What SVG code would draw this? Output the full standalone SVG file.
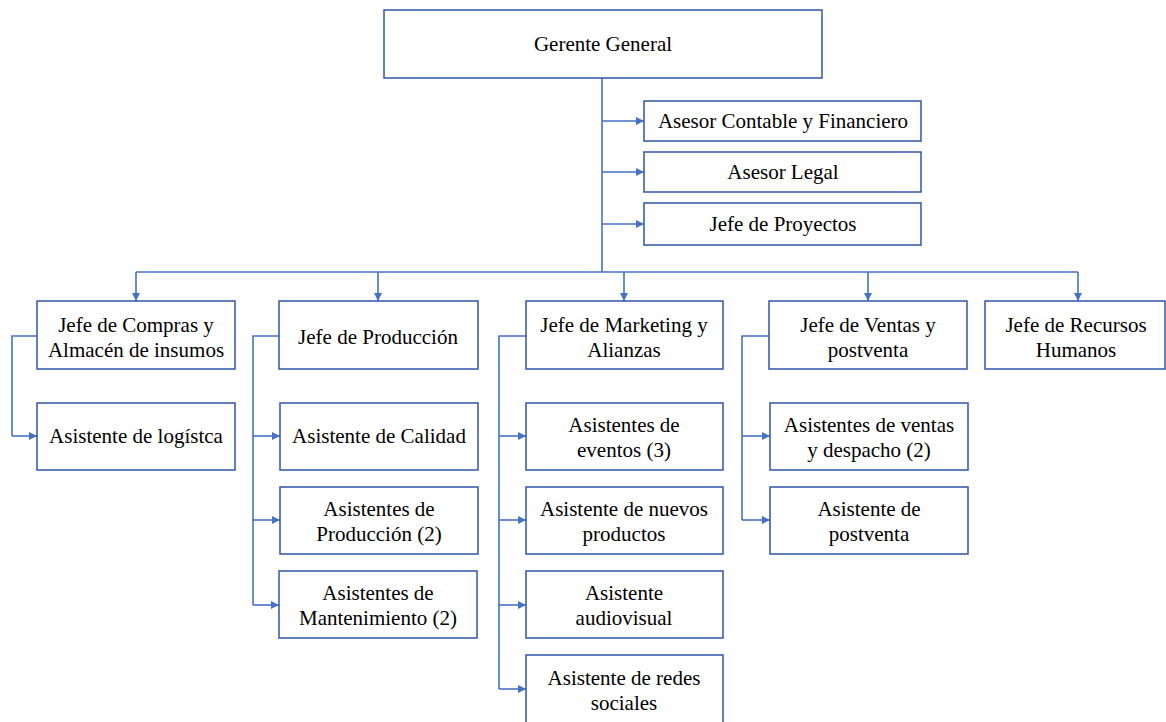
<svg xmlns="http://www.w3.org/2000/svg" width="1166" height="722" viewBox="0 0 1166 722">
  <style>
    .box { fill: #ffffff; stroke: #2f55a6; stroke-width: 1.5; }
    .lbl { font-family: 'Liberation Serif', 'DejaVu Serif', serif; font-size: 21px; fill: #000000; text-anchor: middle; }
    .link { fill: none; stroke: #4472c4; stroke-width: 1.6; }
    .arr { marker-end: url(#head); }
  </style>
  <defs>
    <marker id="head" viewBox="0 0 10 10" refX="10" refY="5" markerWidth="8" markerHeight="8" markerUnits="userSpaceOnUse" orient="auto">
      <path d="M0,0 L10,5 L0,10 z" fill="#4472c4"/>
    </marker>
  </defs>
  <rect width="1166" height="722" fill="#ffffff"/>

  <!-- connectors -->
  <g id="connectors">
    <!-- trunk from the general manager -->
    <path class="link" d="M602,78 V272"/>
    <path class="link arr" d="M602,121 H644"/>
    <path class="link arr" d="M602,172 H644"/>
    <path class="link arr" d="M602,224 H644"/>
    <!-- bus to the department heads -->
    <path class="link" d="M136,272 H1078"/>
    <path class="link arr" d="M136,272 V301"/>
    <path class="link arr" d="M378,272 V301"/>
    <path class="link arr" d="M624,272 V301"/>
    <path class="link arr" d="M868,272 V301"/>
    <path class="link arr" d="M1078,272 V301"/>
    <!-- purchasing -->
    <path class="link" d="M37,336 H12 V436"/>
    <path class="link arr" d="M12,436 H37"/>
    <!-- production -->
    <path class="link" d="M279,336 H253 V605"/>
    <path class="link arr" d="M253,436 H280"/>
    <path class="link arr" d="M253,520 H280"/>
    <path class="link arr" d="M253,605 H279"/>
    <!-- marketing -->
    <path class="link" d="M526,336 H499 V689"/>
    <path class="link arr" d="M499,436 H526"/>
    <path class="link arr" d="M499,520 H526"/>
    <path class="link arr" d="M499,605 H526"/>
    <path class="link arr" d="M499,689 H526"/>
    <!-- sales -->
    <path class="link" d="M769,336 H742 V520"/>
    <path class="link arr" d="M742,436 H770"/>
    <path class="link arr" d="M742,520 H770"/>
  </g>

  <g id="gerente-general">
    <rect class="box" x="384" y="10" width="438" height="68"/>
    <text class="lbl" x="603" y="51">Gerente General</text>
  </g>

  <g id="asesor-contable">
    <rect class="box" x="644" y="101" width="277" height="40"/>
    <text class="lbl" x="783" y="128">Asesor Contable y Financiero</text>
  </g>
  <g id="asesor-legal">
    <rect class="box" x="644" y="152" width="277" height="40"/>
    <text class="lbl" x="783" y="179">Asesor Legal</text>
  </g>
  <g id="jefe-proyectos">
    <rect class="box" x="644" y="203" width="277" height="42"/>
    <text class="lbl" x="783" y="231">Jefe de Proyectos</text>
  </g>

  <g id="jefe-compras">
    <rect class="box" x="37" y="301" width="198" height="68"/>
    <text class="lbl" x="136" y="332">Jefe de Compras y</text>
    <text class="lbl" x="136" y="357">Almacén de insumos</text>
  </g>
  <g id="jefe-produccion">
    <rect class="box" x="279" y="301" width="199" height="68"/>
    <text class="lbl" x="378" y="344">Jefe de Producción</text>
  </g>
  <g id="jefe-marketing">
    <rect class="box" x="526" y="301" width="197" height="68"/>
    <text class="lbl" x="624" y="332">Jefe de Marketing y</text>
    <text class="lbl" x="624" y="357">Alianzas</text>
  </g>
  <g id="jefe-ventas">
    <rect class="box" x="769" y="301" width="198" height="68"/>
    <text class="lbl" x="868" y="332">Jefe de Ventas y</text>
    <text class="lbl" x="868" y="357">postventa</text>
  </g>
  <g id="jefe-rrhh">
    <rect class="box" x="985" y="301" width="180" height="68"/>
    <text class="lbl" x="1076" y="332">Jefe de Recursos</text>
    <text class="lbl" x="1076" y="357">Humanos</text>
  </g>

  <g id="asistente-logistica">
    <rect class="box" x="37" y="403" width="198" height="67"/>
    <text class="lbl" x="136" y="443">Asistente de logístca</text>
  </g>

  <g id="asistente-calidad">
    <rect class="box" x="280" y="403" width="198" height="67"/>
    <text class="lbl" x="379" y="443">Asistente de Calidad</text>
  </g>
  <g id="asistentes-produccion">
    <rect class="box" x="280" y="487" width="198" height="67"/>
    <text class="lbl" x="379" y="516">Asistentes de</text>
    <text class="lbl" x="379" y="541">Producción (2)</text>
  </g>
  <g id="asistentes-mantenimiento">
    <rect class="box" x="279" y="571" width="198" height="67"/>
    <text class="lbl" x="378" y="600">Asistentes de</text>
    <text class="lbl" x="378" y="625">Mantenimiento (2)</text>
  </g>

  <g id="asistentes-eventos">
    <rect class="box" x="526" y="403" width="197" height="67"/>
    <text class="lbl" x="624" y="432">Asistentes de</text>
    <text class="lbl" x="624" y="457">eventos (3)</text>
  </g>
  <g id="asistente-nuevos-productos">
    <rect class="box" x="526" y="487" width="197" height="67"/>
    <text class="lbl" x="624" y="516">Asistente de nuevos</text>
    <text class="lbl" x="624" y="541">productos</text>
  </g>
  <g id="asistente-audiovisual">
    <rect class="box" x="526" y="571" width="197" height="67"/>
    <text class="lbl" x="624" y="600">Asistente</text>
    <text class="lbl" x="624" y="625">audiovisual</text>
  </g>
  <g id="asistente-redes">
    <rect class="box" x="526" y="655" width="197" height="70"/>
    <text class="lbl" x="624" y="685">Asistente de redes</text>
    <text class="lbl" x="624" y="710">sociales</text>
  </g>

  <g id="asistentes-ventas">
    <rect class="box" x="770" y="403" width="198" height="67"/>
    <text class="lbl" x="869" y="432">Asistentes de ventas</text>
    <text class="lbl" x="869" y="457">y despacho (2)</text>
  </g>
  <g id="asistente-postventa">
    <rect class="box" x="770" y="487" width="198" height="67"/>
    <text class="lbl" x="869" y="516">Asistente de</text>
    <text class="lbl" x="869" y="541">postventa</text>
  </g>
</svg>
